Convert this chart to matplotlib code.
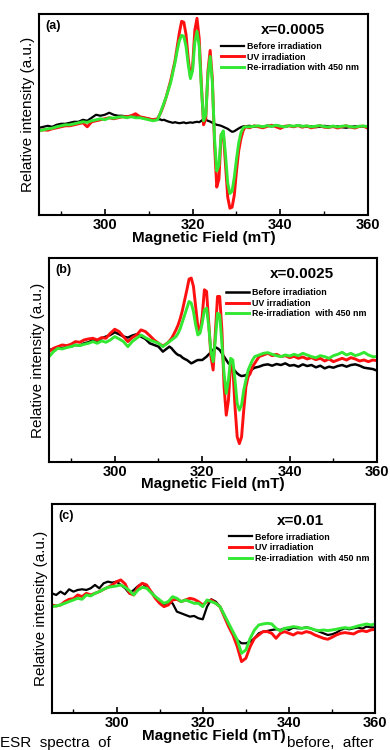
import numpy as np
import matplotlib
matplotlib.use('Agg')
import matplotlib.pyplot as plt
from matplotlib.ticker import MultipleLocator

plt.rcParams['font.family'] = ['Liberation Sans', 'DejaVu Sans']

labels = ['Before irradiation', 'UV irradiation', 'Re-irradiation with 450 nm']
labels_bc = ['Before irradiation', 'UV irradiation', 'Re-irradiation  with 450 nm']
conc = ['x=0.0005', 'x=0.0025', 'x=0.01']

# field grid for (a) and (b): 1 mT steps, 0.5 mT through the signal
field_ab = np.concatenate([np.arange(285, 312), np.arange(312, 332.5, 0.5), np.arange(333, 361)])
field_c = np.arange(285, 361)

# (a) x=0.0005
a_before = [43.5, 44, 44.5, 44, 45, 45.5, 45.5, 46, 46.5, 46.5, 47.5, 47, 48.5, 50, 49.5, 50, 51, 50, 49.5,
            49.5, 49, 49.5, 49, 48.5, 48.5, 48, 47.5,
            47.5, 47.8, 47.3, 47.5, 47, 46.6, 46.3, 46, 46.3, 46, 45.8, 46, 46.2, 45.8, 46, 46.2, 46, 46.3,
            46.5, 46.3, 47, 47.8, 47.5, 47, 46.6, 46, 45.5, 45, 44.8, 44.5, 44, 43.5, 43, 42.2, 41.5, 41.8,
            42.5, 43.2, 43.8, 44.2, 44.3,
            44.5, 44, 44.3, 44, 44.6, 44.2, 44.8, 44.3, 44, 44.5, 44.2, 44.6, 44.4, 44, 44.3, 43.8, 44, 44.5,
            44.2, 43.9, 44.3, 43.8, 43.5, 44, 44.3, 44, 44.2, 44]
a_uv = [42, 42.5, 42.3, 43, 43.5, 44, 44.5, 44.5, 45, 45.5, 46, 44, 46.5, 47, 47.5, 48, 48.5, 48, 48.5,
        49, 49, 49.5, 50.5, 49, 48.5, 48, 47.5,
        48, 50, 52.5, 55.5, 59, 63, 67, 72, 77, 84, 91, 96.5, 96, 90, 78, 69, 74, 92, 98, 88, 65, 45, 48,
        72, 82, 68, 35, 14, 18, 40, 41, 25, 9, 3.5, 4, 10, 22, 32, 38, 42, 44,
        43.5, 44.5, 44, 43.5, 44.2, 44.8, 44, 43.2, 44.3, 44.5, 44, 44.6, 43.8, 44.4, 43.5, 44, 44.6, 43.8,
        43.6, 44.2, 43.4, 44, 44.5, 43.8, 43.4, 44.2, 44.3, 43.2]
a_re = [42, 42.5, 43, 43.3, 44, 44.5, 45, 45, 45.5, 46, 46.5, 46.2, 47, 47.5, 48, 47.5, 48.5, 48.3, 48.8,
        49, 48.5, 49, 48.5, 48.5, 48, 47.5, 47,
        47.5, 50, 53, 56, 59, 62.5, 66, 71, 76, 82, 87, 89.5, 89, 84, 75, 68, 72, 86, 91.5, 84, 63, 47, 50,
        70, 79, 66, 38, 22, 25, 40, 42, 30, 16, 10.8, 12, 19, 28, 36, 41, 43.5, 44,
        44, 44.3, 44.5, 44, 44.6, 44.2, 44.8, 44.3, 44, 44.6, 44.3, 44.7, 44.2, 44.5, 44, 44.3, 44.6, 44.1,
        43.8, 44.4, 43.9, 44.3, 44.5, 44, 43.8, 44.3, 44.4, 44]

# (b) x=0.0025
b_before = [335, 338, 342, 340, 345, 345, 350, 348, 355, 358, 365, 362, 370, 375, 380, 388, 382, 375, 372,
            378, 382, 375, 368, 355, 350, 345, 330,
            340, 345, 340, 332, 325, 320, 318, 312, 308, 305, 300, 295, 298, 302, 305, 305, 305, 310, 315,
            322, 328, 335, 343, 340, 335, 325, 315, 305, 295, 290, 280, 272, 265, 260, 257, 258, 260, 265,
            270, 278, 282,
            285, 290, 292, 288, 293, 290, 295, 288, 290, 285, 292, 287, 290, 283, 288, 280, 285, 282, 287,
            290, 285, 290, 292, 288, 282, 280, 278, 273]
b_uv = [330, 340, 345, 350, 348, 352, 360, 358, 365, 368, 370, 365, 372, 370, 385, 397, 390, 375, 360,
        372, 380, 395, 390, 378, 365, 355, 347,
        355, 362, 370, 382, 395, 410, 430, 455, 485, 515, 547, 550, 525, 465, 405, 390, 435, 515, 510, 415,
        315, 275, 385, 495, 495, 395, 225, 140, 185, 295, 285, 165, 75, 55, 75, 155, 225, 255, 265, 285, 295,
        315, 320, 325, 318, 322, 315, 318, 312, 316, 310, 314, 308, 312, 306, 310, 302, 308, 300, 305, 310,
        305, 312, 308, 302, 305, 300, 305, 303]
b_re = [315, 330, 340, 338, 342, 345, 350, 348, 352, 355, 360, 355, 362, 358, 365, 375, 368, 360, 345,
        360, 370, 380, 372, 365, 360, 355, 345,
        355, 360, 365, 370, 375, 385, 400, 420, 440, 460, 480, 475, 450, 410, 380, 385, 415, 455, 460, 405,
        330, 300, 365, 445, 440, 355, 265, 205, 245, 310, 305, 245, 175, 155, 170, 215, 245, 275, 290, 305,
        315,
        320, 325, 327, 322, 318, 315, 320, 317, 322, 318, 325, 320, 315, 312, 318, 315, 310, 318, 322, 328,
        320, 325, 318, 322, 328, 320, 315, 315]

# (c) x=0.01
c_before = [360, 355, 365, 357, 372, 365, 370, 372, 370, 375, 385, 375, 390, 395, 392, 395, 385, 375, 360,
            370, 382, 390, 378, 365, 350, 335, 325, 335, 330, 305, 300, 295, 290, 292, 285, 282, 320, 342,
            335, 320, 295, 265, 240, 220, 210, 210, 215, 225, 240, 245, 247, 250, 252, 250, 255, 250, 257,
            255, 255, 258, 255, 250, 245, 240, 235, 237, 242, 250, 255, 252, 255, 257, 254, 260, 258, 257]
c_uv = [325, 322, 325, 335, 342, 344, 355, 350, 360, 355, 360, 365, 372, 378, 385, 395, 400, 388, 360, 355,
        380, 390, 385, 365, 345, 330, 320, 325, 340, 342, 335, 340, 345, 342, 335, 325, 335, 340, 330, 320,
        290, 260, 235, 200, 155, 165, 200, 225, 235, 245, 245, 240, 225, 240, 245, 240, 235, 242, 240, 245,
        242, 235, 230, 225, 222, 228, 235, 240, 242, 240, 238, 245, 248, 245, 250, 252]
c_re = [320, 322, 325, 330, 335, 340, 345, 342, 355, 352, 360, 365, 372, 378, 380, 382, 385, 378, 368, 355,
        370, 378, 375, 362, 350, 340, 330, 335, 350, 345, 335, 340, 335, 330, 330, 320, 340, 335, 330, 320,
        295, 270, 245, 220, 180, 190, 225, 250, 265, 268, 270, 268, 255, 247, 255, 257, 260, 258, 255, 257,
        255, 250, 248, 250, 248, 250, 252, 255, 257, 255, 258, 262, 265, 268, 265, 268]

panels = [
    ('(a)', field_ab, a_before, a_uv, a_re, (0, 100), [0.100, 0.713, 0.844, 0.268], labels, (0.54, 0.885)),
    ('(b)', field_ab, b_before, b_uv, b_re, (0, 610), [0.126, 0.384, 0.841, 0.272], labels_bc, (0.525, 0.875)),
    ('(c)', field_c, c_before, c_uv, c_re, (0, 628), [0.133, 0.049, 0.829, 0.279], labels_bc, (0.535, 0.885)),
]

fig = plt.figure(figsize=(3.9, 7.5), dpi=100)

for i, (tag, x, yb, yu, yr, ylim, rect, labs, anchor) in enumerate(panels):
    ax = fig.add_axes(rect)
    ax.plot(x, yb, color='black', lw=1.6 if i != 1 else 1.8, label=labs[0])
    ax.plot(x, yu, color='#ff1010', lw=2.1, label=labs[1])
    ax.plot(x, yr, color='#33e833', lw=2.1, label=labs[2])
    ax.set_xlim(285, 360)
    ax.set_ylim(*ylim)
    ax.set_yticks([])
    ax.xaxis.set_major_locator(MultipleLocator(20))
    ax.xaxis.set_minor_locator(MultipleLocator(10))
    ax.tick_params(axis='x', which='major', direction='in', length=4, width=1.2,
                   labelsize=10.5, pad=2, top=False)
    ax.tick_params(axis='x', which='minor', direction='in', length=3, width=1.0, top=False)
    for lab in ax.get_xticklabels():
        lab.set_fontweight('bold')
    for sp in ax.spines.values():
        sp.set_linewidth(1.5)
    ax.set_xlabel('Magnetic Field (mT)', fontsize=11, fontweight='bold', labelpad=-1)
    ax.set_ylabel('Relative intensity (a.u.)', fontsize=11, labelpad=3)
    ax.text(0.02, 0.97, tag, transform=ax.transAxes, fontsize=9, fontweight='bold', va='top', ha='left')
    ax.text(0.77, 0.92, conc[i], transform=ax.transAxes, fontsize=11, fontweight='bold',
            va='center', ha='center')
    ax.legend(loc='upper left', bbox_to_anchor=anchor, frameon=False,
              prop={'size': 6.4, 'weight': 'bold'}, handlelength=2.6, handletextpad=0.3,
              labelspacing=0.2, borderpad=0)

fig.text(0.0, 0.0, 'ESR  spectra  of', fontsize=11, va='bottom', ha='left')
fig.text(0.735, 0.0, 'before,  after', fontsize=11, va='bottom', ha='left')

fig.savefig('out.png', dpi=100)
